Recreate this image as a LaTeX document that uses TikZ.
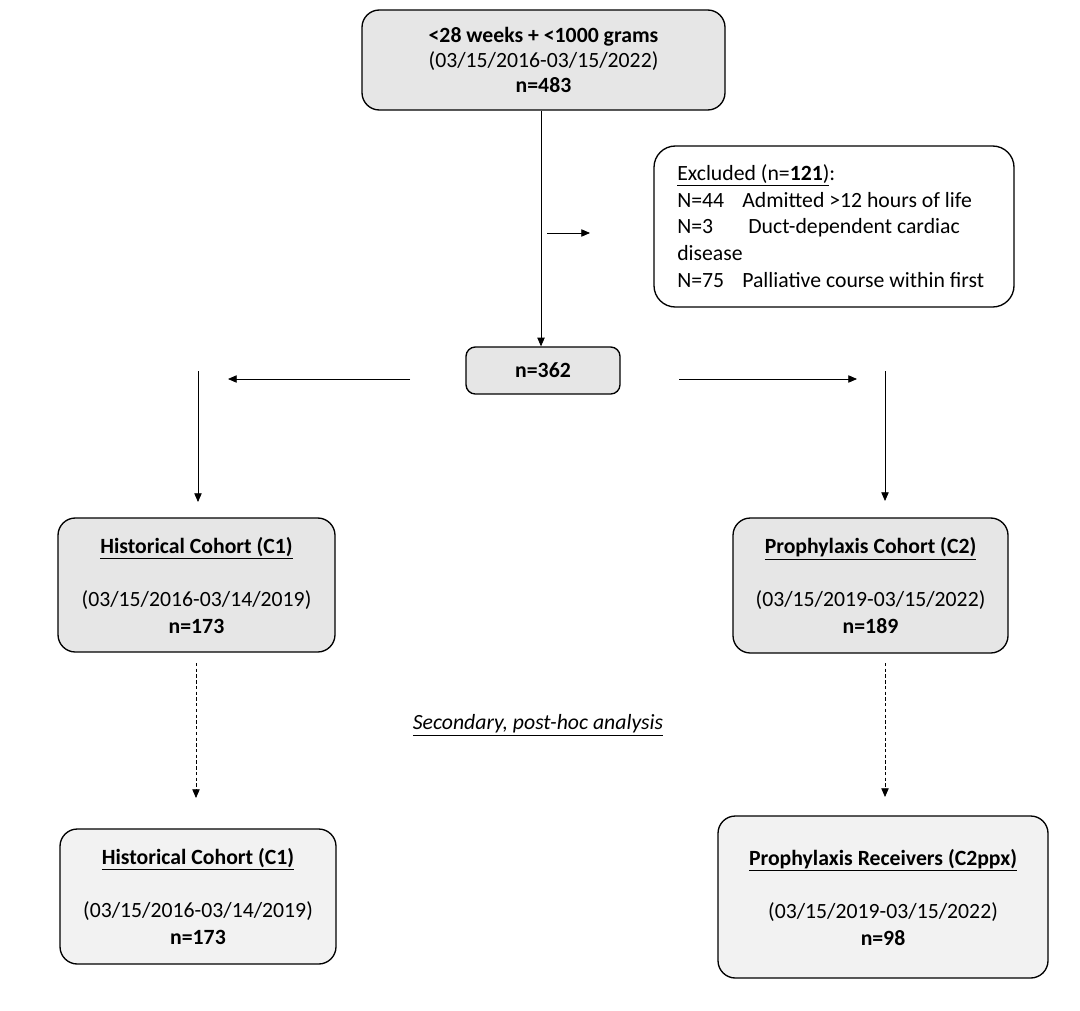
\documentclass[tikz,border=0pt]{standalone}
\usepackage{fontspec}
\setmainfont{Carlito}
\usetikzlibrary{arrows.meta}
\definecolor{boxgray}{HTML}{E6E6E6}
\definecolor{boxlight}{HTML}{F2F2F2}
\begin{document}
\begin{tikzpicture}[x=0.75pt,y=-0.75pt,
  base/.style={draw=black, line width=1pt, align=center, inner sep=0pt,
    font=\fontsize{16.3}{20}\selectfont},
  graybox/.style={base, fill=boxgray, rounded corners=13pt},
  lightbox/.style={base, fill=boxlight, rounded corners=13pt},
  whitebox/.style={base, fill=white, rounded corners=16pt},
  arr/.style={line width=0.6pt, -{Triangle[length=6.5pt,width=5.5pt]}},
  darr/.style={arr, dash pattern=on 2.5pt off 1.8pt}]
\useasboundingbox (0,0) rectangle (1080,1010);
% boxes
\node[graybox, minimum width=272.25pt, minimum height=75pt,
  font=\fontsize{16.3}{18.75}\selectfont] (top) at (543.5,60)
  {\textbf{<28 weeks + <1000 grams}\\(03/15/2016-03/15/2022)\\\textbf{n=483}};
\node[whitebox, minimum width=270pt, minimum height=120.75pt] (excl) at (834,226.5) {};
\node[anchor=west, align=left, inner sep=0pt,
  font=\fontsize{16.3}{20}\selectfont] (excltxt) at (677,226)
  {\underline{Excluded (n=\textbf{121})}:\\
   \makebox[48.75pt][l]{N=44}Admitted >12 hours of life\\
   \makebox[53.25pt][l]{N=3}Duct-dependent cardiac\\
   disease\\
   \makebox[48.75pt][l]{N=75}Palliative course within first};
\node[graybox, rounded corners=7pt, minimum width=115.5pt, minimum height=35.25pt]
  (mid) at (543,370.5) {\textbf{n=362}};
\node[graybox, minimum width=207.75pt, minimum height=100.5pt] (c1) at (196.5,585)
  {\underline{\textbf{Historical Cohort (C1)}}\\[20pt](03/15/2016-03/14/2019)\\\textbf{n=173}};
\node[graybox, minimum width=206.25pt, minimum height=101.25pt] (c2) at (870.5,585.5)
  {\underline{\textbf{Prophylaxis Cohort (C2)}}\\[20pt](03/15/2019-03/15/2022)\\\textbf{n=189}};
\node[lightbox, minimum width=207pt, minimum height=101.25pt] (c1b) at (198,896.5)
  {\underline{\textbf{Historical Cohort (C1)}}\\[20pt](03/15/2016-03/14/2019)\\\textbf{n=173}};
\node[lightbox, minimum width=247.5pt, minimum height=121.5pt] (c2p) at (883,897)
  {\underline{\textbf{Prophylaxis Receivers (C2ppx)}}\\[20pt](03/15/2019-03/15/2022)\\\textbf{n=98}};
\node[font=\fontsize{16.3}{20}\selectfont\itshape] (sec) at (538,725)
  {\underline{Secondary, post-hoc analysis}};
% free connector ends
\coordinate (ex1) at (547,233);
\coordinate (ex2) at (590,233);
\coordinate (l1) at (410,379);
\coordinate (l2) at (228,379);
\coordinate (r1) at (679,379);
\coordinate (r2) at (857,379);
\coordinate (lv1) at (198,371);
\coordinate (lv2) at (198,502);
\coordinate (rv1) at (885,371);
\coordinate (rv2) at (885,501);
\coordinate (ld1) at (196,663);
\coordinate (ld2) at (196,798);
\coordinate (rd1) at (885,663);
\coordinate (rd2) at (885,797);
% connectors
\draw[arr] (top.south -| 541,0) -- (mid.north -| 541,0);
\draw[arr] (ex1) -- (ex2);
\draw[arr] (l1) -- (l2);
\draw[arr] (r1) -- (r2);
\draw[arr] (lv1) -- (lv2);
\draw[arr] (rv1) -- (rv2);
\draw[darr] (ld1) -- (ld2);
\draw[darr] (rd1) -- (rd2);
\end{tikzpicture}
\end{document}
